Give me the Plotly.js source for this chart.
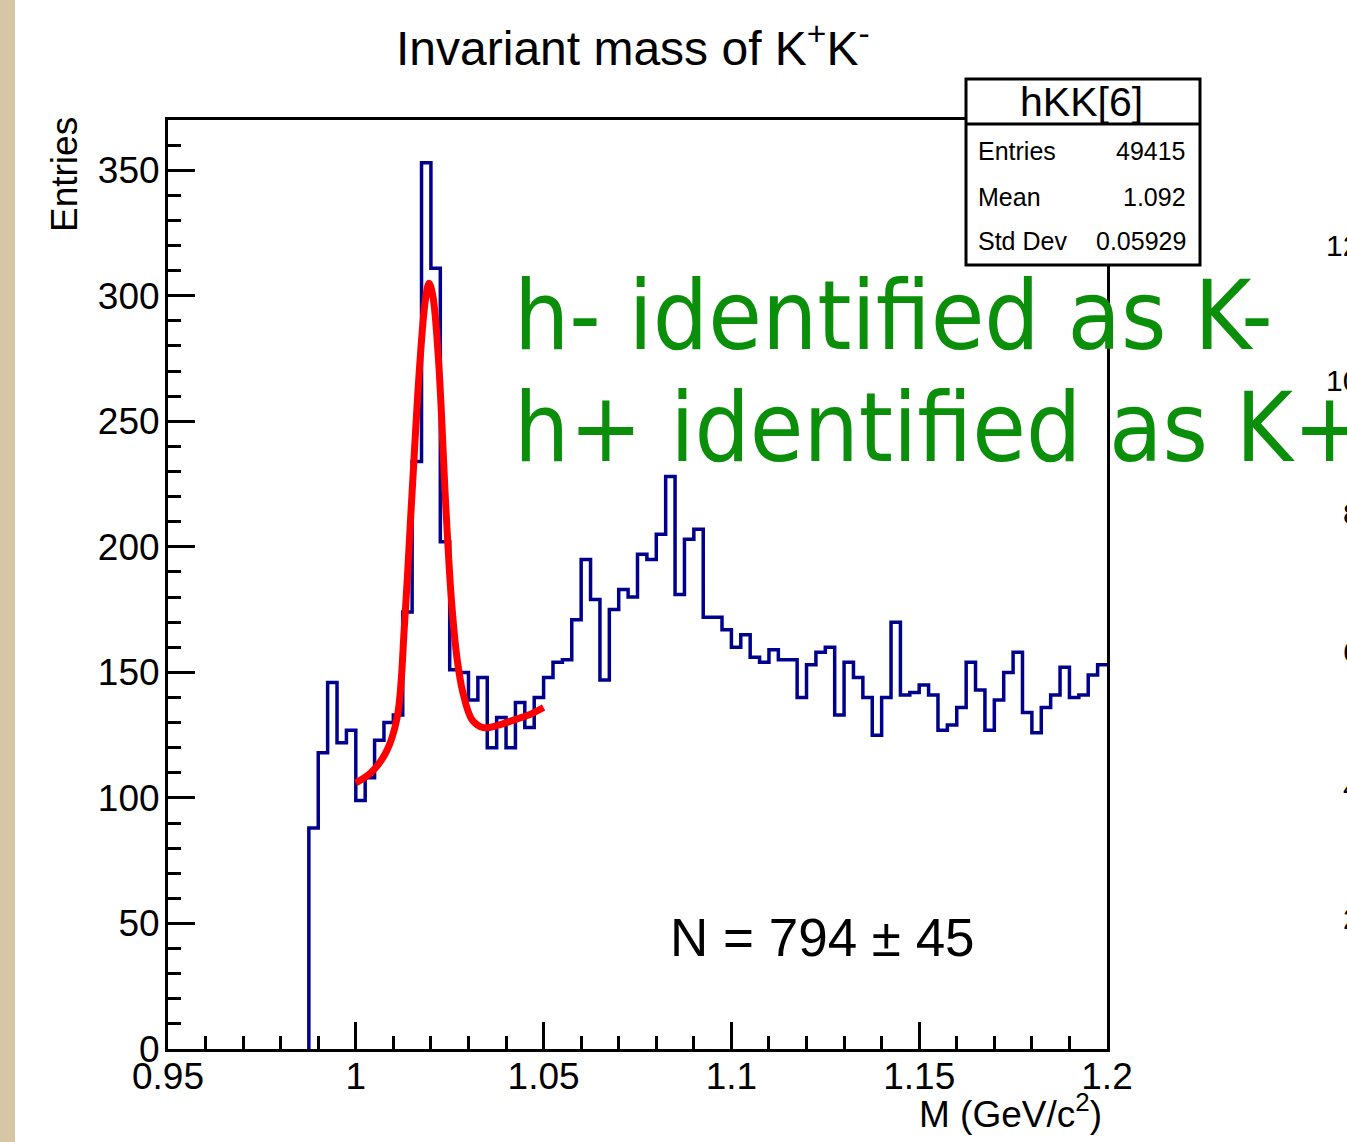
<!DOCTYPE html>
<html>
<head>
<meta charset="utf-8">
<script src="https://cdn.plot.ly/plotly-3.0.1.min.js"></script>
<style>
  html, body { margin: 0; padding: 0; background: #ffffff; }
  #chart { width: 1347px; height: 1142px; }
</style>
</head>
<body>
<div id="chart"></div>
<script>
// ---- Data ----
const binLow = 0.95;
const binWidth = 0.0025;
const nBins = 100;
// hKK[6] bin contents (100 bins, 0.95 .. 1.20)
const counts = [
  0,0,0,0,0,0,0,0,0,0,0,0,0,0,0,
  88,118,146,122,127,99,108,123,130,133,
  174,234,353,311,202,151,150,139,148,120,
  132,120,138,128,140,148,154,155,171,195,
  179,147,175,183,180,197,195,205,228,181,
  203,207,172,172,167,160,165,156,154,159,
  155,155,140,153,158,160,133,154,148,140,
  125,140,170,141,142,145,141,127,129,136,
  154,143,127,139,150,158,134,126,136,141,
  152,140,141,149,153
];
// red fit curve
const fitX = [1.000,1.004,1.008,1.011,1.013,1.015,1.017,1.0185,1.0195,1.0205,1.022,1.024,1.0255,1.027,1.0285,1.031,1.034,1.038,1.042,1.046,1.050];
const fitY = [106,110,118,132,170,222,272,298,305,300,275,215,178,155,142,131,128,129,131,133,136];

const xTickVals = [0.95,1.0,1.05,1.1,1.15,1.2];
const xTickText = ["0.95","1","1.05","1.1","1.15","1.2"];

const statLabels = ["Entries","Mean","Std Dev"];
const statValues = ["49415","1.092","0.05929"];

// ---- Build step outline from bin edges (empty leading bins lie on the axis) ----
let first = 0;
while (first < nBins && counts[first] === 0) first++;
const histX = [binLow + first * binWidth], histY = [0];
for (let i = first; i < nBins; i++) {
  histX.push(binLow + i * binWidth);
  histY.push(counts[i]);
}
histX.push(binLow + nBins * binWidth);
histY.push(counts[nBins - 1]);

// pixel -> paper helpers (plot area: x 168..1107, y 120..1049)
const L = 168, R = 1107, T = 120, B = 1049;
const px = x => (x - L) / (R - L);
const py = y => (B - y) / (B - T);

const FONT = "Liberation Sans, Arial, Helvetica, sans-serif";
const HAND = "DejaVu Sans Condensed, Liberation Sans Narrow, sans-serif";

const traces = [
  {
    type: "scatter", mode: "lines", x: histX, y: histY,
    line: { shape: "hv", color: "#00008c", width: 3.5 },
    hoverinfo: "skip"
  },
  {
    type: "scatter", mode: "lines", x: fitX, y: fitY,
    line: { shape: "spline", smoothing: 1.0, color: "#ff0000", width: 7 },
    hoverinfo: "skip"
  }
];

const ann = [];
function txt(x, y, text, size, opts) {
  ann.push(Object.assign({
    xref: "paper", yref: "paper", x: px(x), y: py(y), text: text,
    showarrow: false, xanchor: "center", yanchor: "middle",
    font: { family: FONT, size: size, color: "#000000" }
  }, opts || {}));
}
txt(633, 45, "Invariant mass of K<sup>+</sup>K<sup>-</sup>", 48);
txt(64, 175, "Entries", 37, { textangle: -90 });
txt(1104, 1111, "M (GeV/c<sup>2</sup>)", 37, { xanchor: "right" });
txt(822, 937, "N = 794 ± 45", 53);
// stat box text
txt(1081, 102, "hKK[6]", 41);
const rowY = [151, 197, 241];
for (let i = 0; i < statLabels.length; i++) {
  txt(976, rowY[i], statLabels[i], 25, { xanchor: "left" });
  txt(1188, rowY[i], statValues[i], 25, { xanchor: "right" });
}
// green handwritten note
txt(512, 315, "h- identified as K-", 97, { xanchor: "left", font: { family: HAND, size: 97, color: "#0b8f0b" } });
txt(512, 428, "h+ identified as K+", 97, { xanchor: "left", font: { family: HAND, size: 97, color: "#0b8f0b" } });
// cut-off tick labels of the neighbouring plot at the right edge
const edgeLabels = ["12","10","8","6","4","2"];
const edgeY = [246, 380, 513, 651, 787, 918];
const edgeX = [1324, 1324, 1341, 1341, 1341, 1341];
for (let i = 0; i < edgeLabels.length; i++) {
  txt(edgeX[i], edgeY[i], edgeLabels[i], 30, { xanchor: "left" });
}

const shapes = [
  // beige strip on the left
  { type: "rect", xref: "paper", yref: "paper", x0: px(0), x1: px(15), y0: py(1142), y1: py(0),
    fillcolor: "#d6c6a4", line: { width: 0 }, layer: "below" },
  // stat box
  { type: "rect", xref: "paper", yref: "paper", x0: px(966), x1: px(1200), y0: py(265), y1: py(79),
    fillcolor: "#ffffff", line: { color: "#000000", width: 3 }, layer: "above" },
  { type: "line", xref: "paper", yref: "paper", x0: px(966), x1: px(1200), y0: py(124), y1: py(124),
    line: { color: "#000000", width: 3 }, layer: "above" }
];

const layout = {
  width: 1347, height: 1142,
  margin: { l: L, r: 1347 - R, t: T, b: 1142 - B, pad: 0 },
  paper_bgcolor: "#ffffff", plot_bgcolor: "#ffffff",
  showlegend: false,
  xaxis: {
    range: [0.95, 1.2], tickmode: "array", tickvals: xTickVals, ticktext: xTickText,
    ticks: "inside", ticklen: 27, tickwidth: 3, tickcolor: "#000000",
    showline: true, linecolor: "#000000", linewidth: 3, mirror: true, layer: "above traces",
    showgrid: false, zeroline: false, ticklabelstandoff: -7,
    tickfont: { family: FONT, size: 37, color: "#000000" },
    minor: { tick0: 0.95, dtick: 0.01, ticks: "inside", ticklen: 13, tickwidth: 3, tickcolor: "#000000", showgrid: false }
  },
  yaxis: {
    range: [0, 370], tickmode: "linear", tick0: 0, dtick: 50,
    ticks: "inside", ticklen: 27, tickwidth: 3, tickcolor: "#000000",
    showline: true, linecolor: "#000000", linewidth: 3, mirror: true, layer: "above traces",
    showgrid: false, zeroline: false, ticklabelstandoff: -2,
    tickfont: { family: FONT, size: 37, color: "#000000" },
    minor: { tick0: 0, dtick: 10, ticks: "inside", ticklen: 13, tickwidth: 3, tickcolor: "#000000", showgrid: false }
  },
  annotations: ann,
  shapes: shapes
};

Plotly.newPlot("chart", traces, layout, { displayModeBar: false, staticPlot: true });
</script>
</body>
</html>
